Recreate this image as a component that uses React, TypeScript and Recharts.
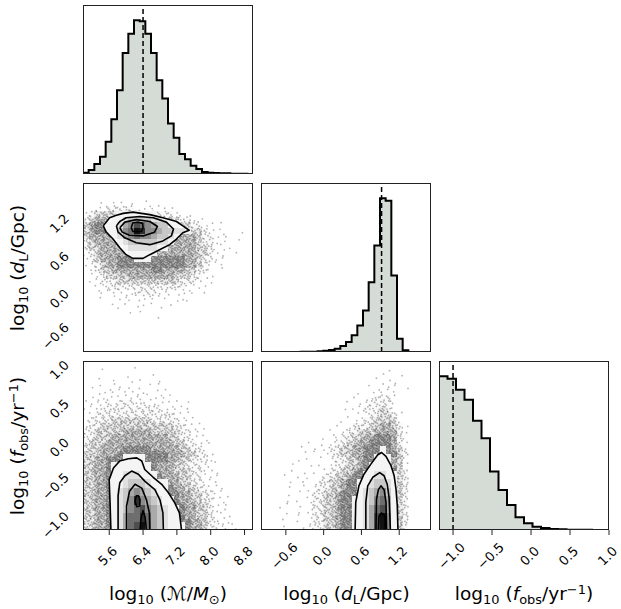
import React from "react";
import { ComposedChart, Area, Scatter, XAxis, YAxis, ReferenceLine } from "recharts";

// ranges, ticks and truth values
const massRange: [number, number] = [4.98, 9.0];
const distRange: [number, number] = [-0.995, 1.705];
const freqRange: [number, number] = [-1.18, 1.0];

const massTicks = [5.6, 6.4, 7.2, 8.0, 8.8];
const distTicks = [-0.6, 0.0, 0.6, 1.2];
const freqTicks = [-1.0, -0.5, 0.0, 0.5, 1.0];

const massTruth = 6.4;
const distTruth = 0.92;
const freqTruth = -1.0;

// 1D histogram counts (30, 30 and 20 bins)
const massCounts = [4, 12, 30, 52, 97, 165, 252, 364, 422, 462, 459, 422, 364, 282, 227, 152, 109, 60, 44, 25, 15, 6, 4, 3, 2, 2, 1, 1, 1, 0];
const distCounts = [0, 0, 0, 0, 0, 0, 0, 0.5, 0.5, 1, 2, 4, 6, 10, 18, 30, 50, 80, 125, 210, 320, 462, 455, 230, 40, 5, 0, 0, 0, 0];
const freqCounts = [460, 453, 420, 390, 327, 275, 175, 120, 75, 38, 20, 10, 6, 3, 2, 1, 1, 0.5, 0.3, 0];

// scatter-point density (1 = sparse ... 5 = dense), 30x30 cells, top row first
const hazeMassDist = [
  "..............................",
  "..............................",
  "..............................",
  "...1.11.1..1..................",
  "..11222221111111..............",
  "1233333333222222111...........",
  "2344443333333333322111........",
  "34554444444444444332211.1.....",
  "3455444444444444443332111...1.",
  "34444444444444444444322111....",
  "23444444444444444444322111.1..",
  "23344444444444444444332111....",
  "1234444444444444444433211..1..",
  "1234445555555555554432211.....",
  "1123445555555555554432111.....",
  ".1233444444455444433221.1.....",
  ".1123333444444443332211.......",
  ".11222333333333332221.1.......",
  "..11222222222222221111........",
  "..111111122221111111.1........",
  "...1.1111111111.111...........",
  ".....1.1.11.1..1..............",
  "......1...1..1................",
  "........1....1................",
];
const hazeMassFreq = [
  "..............................",
  "...1.....1....................",
  ".......1....1.................",
  "..1..1..1.1..1................",
  ".1.1.11.11.1.1................",
  "..1111111111.11...............",
  ".111111111111111..............",
  "11112122212111111.1...........",
  "1112222222222211111...........",
  "1122222222222222111...........",
  "12222333333322222111..........",
  "122333333333333322111.........",
  "2233333444443333322111........",
  "2233344444444443322111........",
  "23334444444444443322111.......",
  "2334444555554444433221........",
  "33344455555555544433221.......",
  "334455555555555443322211......",
  "33445555555554443322211.......",
  "334455555555544433322111......",
  "334455555555554443322111......",
  "334455555555555443322111......",
  "3344555555555555443322111.....",
  "3344555555555555544332211.....",
  "33445555555555555443322111....",
  "33445555555555555544332111....",
  "33445555555555555544332111....",
  "33445555555555555544332111....",
  "334455555555555555544322111...",
  "334455555555555555544322111...",
];
const hazeDistFreq = [
  "..............................",
  "......................1.......",
  ".....................1..1.....",
  "....................1.11......",
  "...................1.111.1....",
  ".................1.11111......",
  "................1.112221......",
  "...............1.1122221......",
  "..............1.11222321......",
  "...............1.11223321.....",
  "..............1.112233331.....",
  ".............1.12223344321....",
  "............1.122333444421....",
  "..........1.11223344555421....",
  "........1.1.12233445555421....",
  ".......1.1.122334455555431....",
  ".......1.1.122334455555532....",
  "......1.1.1.12233455555431....",
  ".....1..1.1.12233455555431....",
  ".....1.1.1.122334555555532....",
  "....1.1.1.1223345555555532....",
  ".....1.1.12233455555555532....",
  ".....1.1.12233455555555532....",
  "....1.1.122334555555555532....",
  "....1.1.122334555555555532....",
  "....1.1.122334555555555532....",
  "...1..1.122334555555555532....",
  "....1.1.122334555555555532....",
  "...1..1.122334555555555532....",
  "....1..1122334555555555532....",
];

// 2D histogram shading inside the contours (a = lightest ... i = darkest)
const densMassDist = [
  "", "", "", "", "",
  "......aaaaaaa",
  ".....aabccccbba",
  "....aabdegfedccaa",
  "....aacefiheedccbba",
  ".....abdefeedccba",
  "......abcccccbba",
  ".......abbbbbaa",
  "........aaaaa",
  ".........aaa",
];
const densMassFreq = [
  "", "", "", "", "", "", "", "", "", "", "",
  ".......aaaa",
  ".....aaaaaaa",
  ".....aabbbaaa",
  ".....aabcccbaaa",
  ".....abcdedcbaa",
  ".....abcehedcbaa",
  ".....abcefgedcbaa",
  ".....abdffhfdcbaa",
  ".....abdfgifdcbaaa",
];
const densDistFreq = [
  "", "", "", "", "", "", "", "", "", "",
  ".....................a",
  "....................aaa",
  "...................aaaa",
  "..................aabbaa",
  ".................aabccba",
  ".................abcdeca",
  "................aabcefda",
  "................aabdfgda",
  "................aabdgiea",
  "................aabdgiea",
];

// contour lines (0.5, 1, 1.5, 2 sigma), outermost first
const contoursMassDist = [
  [[5.46, 1.02], [5.61, 1.15], [5.77, 1.19], [5.93, 1.22], [6.16, 1.24], [6.56, 1.2], [6.87, 1.15], [7.19, 1.09], [7.34, 1.02], [7.49, 0.95], [7.34, 0.91], [7.19, 0.81], [7.03, 0.72], [6.79, 0.64], [6.56, 0.56], [6.4, 0.5], [6.16, 0.5], [6.0, 0.56], [5.85, 0.67], [5.69, 0.81], [5.53, 0.92], [5.46, 1.02]],
  [[5.77, 1.02], [5.85, 1.09], [6.0, 1.15], [6.32, 1.17], [6.64, 1.15], [6.95, 1.08], [7.12, 0.97], [7.07, 0.86], [6.87, 0.78], [6.56, 0.72], [6.24, 0.75], [5.97, 0.83], [5.81, 0.92], [5.77, 1.02]],
  [[5.85, 0.99], [5.97, 1.08], [6.24, 1.12], [6.56, 1.09], [6.74, 1.01], [6.67, 0.92], [6.4, 0.86], [6.08, 0.87], [5.91, 0.92], [5.85, 0.99]],
  [[6.12, 0.99], [6.16, 1.07], [6.28, 1.08], [6.39, 1.06], [6.4, 0.99], [6.36, 0.93], [6.16, 0.93], [6.12, 0.99]],
];
const contoursMassFreq = [
  [[5.64, -1.18], [5.62, -0.83], [5.6, -0.53], [5.7, -0.38], [5.85, -0.29], [6.05, -0.26], [6.25, -0.25], [6.37, -0.29], [6.44, -0.4], [6.64, -0.5], [6.84, -0.59], [7.0, -0.7], [7.15, -0.83], [7.26, -0.96], [7.31, -1.18]],
  [[5.81, -1.18], [5.81, -0.74], [5.85, -0.57], [5.97, -0.48], [6.13, -0.42], [6.29, -0.46], [6.44, -0.55], [6.68, -0.66], [6.8, -0.79], [6.87, -0.96], [6.88, -1.18]],
  [[6.01, -1.18], [6.01, -0.87], [6.08, -0.68], [6.21, -0.59], [6.37, -0.64], [6.48, -0.79], [6.55, -0.96], [6.56, -1.18]],
  [[6.21, -0.81], [6.24, -0.74], [6.29, -0.74], [6.33, -0.79], [6.32, -0.87], [6.25, -0.88], [6.21, -0.81]],
  [[6.33, -1.18], [6.35, -1.04], [6.4, -0.93], [6.45, -1.02], [6.48, -1.18]],
];
const contoursDistFreq = [
  [[0.5, -1.18], [0.51, -0.82], [0.56, -0.61], [0.64, -0.46], [0.75, -0.33], [0.86, -0.21], [0.92, -0.18], [0.99, -0.23], [1.07, -0.35], [1.12, -0.48], [1.15, -0.66], [1.17, -0.87], [1.18, -1.18]],
  [[0.67, -1.18], [0.67, -0.82], [0.7, -0.61], [0.78, -0.5], [0.89, -0.44], [0.96, -0.48], [1.01, -0.59], [1.04, -0.77], [1.06, -1.18]],
  [[0.83, -1.18], [0.84, -0.78], [0.87, -0.66], [0.91, -0.61], [0.96, -0.66], [0.99, -0.82], [1.0, -1.18]],
  [[0.87, -1.18], [0.88, -1.0], [0.92, -0.96], [0.97, -1.0], [0.98, -1.18]],
];

// ---- styling ----
const FONT = '"DejaVu Sans", sans-serif';
const PW = 170;
const PH = 169;
const COLS = [83, 261, 439];
const ROWS = [5, 183, 361];
const PAD = { top: 14, right: 16, bottom: 0, left: 16 };
const TICK = 5;
const FS = 13;
const HIST_FILL = "#d5dbd5";
const HAZE_DOTS: Record<string, number> = { "1": 1, "2": 3, "3": 6, "4": 9, "5": 13 };
const HAZE_BASE: Record<string, number> = { "1": 0, "2": 0.02, "3": 0.07, "4": 0.15, "5": 0.25 };
const JITTER = [
  [0.18, 0.22], [0.68, 0.72], [0.42, 0.48], [0.86, 0.14], [0.12, 0.82], [0.56, 0.08], [0.32, 0.92], [0.78, 0.44],
  [0.22, 0.54], [0.94, 0.86], [0.52, 0.66], [0.06, 0.36], [0.72, 0.96], [0.36, 0.04], [0.9, 0.6], [0.62, 0.3],
];
const DENS_FILL: Record<string, string> = {
  a: "#f4f4f4", b: "#e0e0e0", c: "#c8c8c8", d: "#aaaaaa", e: "#8c8c8c",
  f: "#6e6e6e", g: "#4e4e4e", h: "#2e2e2e", i: "#111111",
};

const charW = (s: string) =>
  [...s].reduce((a, ch) => a + (ch === "." ? 0.318 : ch === "\u2212" ? 0.838 : 0.636), 0);
const fmt = (v: number) => (Math.abs(v) < 1e-9 ? "0.0" : v.toFixed(1)).replace("-", "\u2212");
const halfBox = (s: string) => ((charW(s) + 0.73) * FS) / Math.SQRT2 / 2;

function rotatedText(cx: number, cy: number, s: string, key?: string) {
  return (
    <text key={key} x={cx} y={cy} textAnchor="middle" dominantBaseline="central" transform={`rotate(-45 ${cx} ${cy})`}
      fontSize={FS} fontFamily={FONT} fill="#000">{s}</text>
  );
}

// x tick labels: rotated 45 degrees, centred just below the tick
const xTickLabel = (props: any) => {
  const s = fmt(props.payload.value);
  return rotatedText(props.x - 1.5, props.y + 21, s);
};

function histPoints(counts: number[], range: [number, number]) {
  const w = (range[1] - range[0]) / counts.length;
  const pts = [{ x: range[0], y: 0 }];
  counts.forEach((c, i) => pts.push({ x: range[0] + i * w, y: c }));
  pts.push({ x: range[1], y: counts[counts.length - 1] });
  pts.push({ x: range[1], y: 0 });
  return pts;
}

function gridCells(grid: string[], xr: [number, number], yr: [number, number], nx: number, ny: number) {
  const cw = (xr[1] - xr[0]) / nx;
  const rh = (yr[1] - yr[0]) / ny;
  const out: { x: number; y: number; v: string; c: number; r: number }[] = [];
  grid.forEach((row, r) =>
    [...row.slice(0, nx)].forEach((ch, c) => {
      if (ch !== ".") out.push({ x: xr[0] + (c + 0.5) * cw, y: yr[1] - (r + 0.5) * rh, v: ch, c, r });
    })
  );
  return out;
}

const noShape = () => <g />;

// a haze cell is drawn as a light wash plus a few small dots, like the scattered samples
const hazeShape = (w: number, h: number) => (p: any) => {
  const { cx, cy, payload } = p;
  const x0 = cx - w / 2;
  const y0 = cy - h / 2;
  const n = HAZE_DOTS[payload.v] || 0;
  const base = HAZE_BASE[payload.v] || 0;
  const start = (payload.c * 5 + payload.r * 3) % JITTER.length;
  const dots = [];
  for (let k = 0; k < n; k++) {
    const [u, t] = JITTER[(start + k) % JITTER.length];
    dots.push(<circle key={k} cx={x0 + u * w} cy={y0 + t * h} r={0.9} fill="#000" fillOpacity={0.3} />);
  }
  return (
    <g>
      {base > 0 && <rect x={x0} y={y0} width={w} height={h} fill="#000" fillOpacity={base} shapeRendering="crispEdges" />}
      {dots}
    </g>
  );
};
const densShape = (w: number, h: number) => (p: any) => (
  <rect x={p.cx - w / 2} y={p.cy - h / 2} width={w} height={h}
    fill={DENS_FILL[p.payload.v]} shapeRendering="crispEdges" />
);
const polyLine = (fill: string, stroke: string, width: number) => (p: any) => {
  const pts = p.points || [];
  const d = pts.map((q: any, i: number) => `${i ? "L" : "M"}${q.x},${q.y}`).join("");
  return <path d={d} fill={fill} stroke={stroke} strokeWidth={width} strokeLinejoin="round" />;
};

const toXY = (arr: number[][]) => arr.map(([x, y]) => ({ x, y }));

function Panel(props: {
  col: number; row: number; xDomain: [number, number]; yDomain: [number, number];
  xTicks?: number[]; yTicks?: number[]; xLabels?: boolean;
  data?: any[]; children: React.ReactNode;
}) {
  const { col, row, xDomain, yDomain, xTicks, yTicks, xLabels, data, children } = props;
  const hx = xTicks ? (xLabels ? 60 : TICK + 1) : 0;
  const wy = yTicks ? TICK + 1 : 0;
  const left = COLS[col];
  const top = ROWS[row];
  const tickLine = { stroke: "#222", strokeWidth: 1 };
  return (
    <>
      <div style={{ position: "absolute", left: left - wy - PAD.left, top: top - PAD.top }}>
        <ComposedChart width={wy + PW + PAD.left + PAD.right} height={PH + hx + PAD.top} data={data} margin={PAD}>
          <XAxis type="number" dataKey="x" domain={xDomain} allowDataOverflow hide={!xTicks} ticks={xTicks}
            interval={0} height={hx} axisLine={false} tickLine={tickLine} tickSize={TICK} tickMargin={0}
            tick={xLabels ? xTickLabel : false} />
          <YAxis type="number" dataKey="y" domain={yDomain} allowDataOverflow hide={!yTicks} ticks={yTicks}
            interval={0} width={wy} axisLine={false} tickLine={tickLine} tickSize={TICK} tickMargin={0}
            tick={false} />
          {children}
        </ComposedChart>
      </div>
      <div style={{
        position: "absolute", left, top, width: PW, height: PH, border: "1px solid #222",
        boxSizing: "border-box", pointerEvents: "none",
      }} />
    </>
  );
}

// rotated y tick labels of the left column, right-aligned a little left of the frame
function YTickLabels() {
  const axes = [
    { row: 1, domain: distRange, ticks: distTicks },
    { row: 2, domain: freqRange, ticks: freqTicks },
  ];
  return (
    <svg width={621} height={609} style={{ position: "absolute", left: 0, top: 0, pointerEvents: "none" }}>
      {axes.flatMap(({ row, domain, ticks }) =>
        ticks.map((v) => {
          const s = fmt(v);
          const py = ROWS[row] + ((domain[1] - v) / (domain[1] - domain[0])) * PH;
          return rotatedText(COLS[0] - 13 - halfBox(s), py + 9, s, `${row}-${v}`);
        })
      )}
    </svg>
  );
}

function histSeries(truth: number) {
  return [
    <Area key="h" dataKey="y" type="stepAfter" stroke="#000" strokeWidth={2} strokeLinejoin="miter"
      fill={HIST_FILL} fillOpacity={1} isAnimationActive={false} dot={false} activeDot={false} />,
    <ReferenceLine key="t" x={truth} stroke="#000" strokeWidth={1.5} strokeDasharray="5 3" />,
  ];
}

function densitySeries(
  haze: string[], dens: string[], contours: number[][][],
  xr: [number, number], yr: [number, number], densRows: number
) {
  return [
    <Scatter key="haze" data={gridCells(haze, xr, yr, 30, 30)} shape={hazeShape(PW / 30, PH / 30)} isAnimationActive={false} />,
    <Scatter key="white" data={toXY(contours[0])} shape={noShape} line={polyLine("#fff", "none", 0)} isAnimationActive={false} />,
    <Scatter key="dens" data={gridCells(dens, xr, yr, 30, densRows)} shape={densShape(PW / 30, PH / densRows)} isAnimationActive={false} />,
    ...contours.map((c, i) => (
      <Scatter key={`c${i}`} data={toXY(c)} shape={noShape} line={polyLine("none", "#000", 1.6)} isAnimationActive={false} />
    )),
  ];
}

const labelStyle: React.CSSProperties = {
  position: "absolute", fontFamily: FONT, fontSize: 18.5, whiteSpace: "nowrap", color: "#000", lineHeight: 1,
};
const sub: React.CSSProperties = { fontSize: "0.7em", position: "relative", top: "0.28em" };
const sup: React.CSSProperties = { fontSize: "0.7em", position: "relative", top: "-0.45em" };

function AxisLabel({ cx, cy, vertical, children }: { cx: number; cy: number; vertical?: boolean; children: React.ReactNode }) {
  return (
    <div style={{ ...labelStyle, left: cx, top: cy, transform: `translate(-50%, -50%)${vertical ? " rotate(-90deg)" : ""}` }}>
      {children}
    </div>
  );
}

const massLabel = (
  <>log<span style={sub}>10</span> (ℳ/<i>M</i><span style={sub}>⊙</span>)</>
);
const distLabel = (
  <>log<span style={sub}>10</span> (<i>d</i><span style={sub}>L</span>/Gpc)</>
);
const freqLabel = (
  <>log<span style={sub}>10</span> (<i>f</i><span style={sub}>obs</span>/yr<span style={sup}>−1</span>)</>
);

export default function App() {
  const massMax = Math.max(...massCounts) * 1.1;
  const distMax = Math.max(...distCounts) * 1.1;
  const freqMax = Math.max(...freqCounts) * 1.1;
  return (
    <div style={{ position: "absolute", left: 0, top: 0, width: 621, height: 609, background: "#fff", overflow: "hidden" }}>
      <Panel col={0} row={0} xDomain={massRange} yDomain={[0, massMax]} xTicks={massTicks} data={histPoints(massCounts, massRange)}>
        {histSeries(massTruth)}
      </Panel>

      <Panel col={0} row={1} xDomain={massRange} yDomain={distRange} xTicks={massTicks} yTicks={distTicks}>
        {densitySeries(hazeMassDist, densMassDist, contoursMassDist, massRange, distRange, 30)}
      </Panel>
      <Panel col={1} row={1} xDomain={distRange} yDomain={[0, distMax]} xTicks={distTicks} data={histPoints(distCounts, distRange)}>
        {histSeries(distTruth)}
      </Panel>

      <Panel col={0} row={2} xDomain={massRange} yDomain={freqRange} xTicks={massTicks} yTicks={freqTicks} xLabels>
        {densitySeries(hazeMassFreq, densMassFreq, contoursMassFreq, massRange, freqRange, 20)}
      </Panel>
      <Panel col={1} row={2} xDomain={distRange} yDomain={freqRange} xTicks={distTicks} yTicks={freqTicks} xLabels>
        {densitySeries(hazeDistFreq, densDistFreq, contoursDistFreq, distRange, freqRange, 20)}
      </Panel>
      <Panel col={2} row={2} xDomain={freqRange} yDomain={[0, freqMax]} xTicks={freqTicks} xLabels data={histPoints(freqCounts, freqRange)}>
        {histSeries(freqTruth)}
      </Panel>

      <YTickLabels />
      <AxisLabel cx={18.3} cy={267.7} vertical>{distLabel}</AxisLabel>
      <AxisLabel cx={18.3} cy={445.5} vertical>{freqLabel}</AxisLabel>
      <AxisLabel cx={168} cy={594}>{massLabel}</AxisLabel>
      <AxisLabel cx={346.5} cy={594}>{distLabel}</AxisLabel>
      <AxisLabel cx={524} cy={594}>{freqLabel}</AxisLabel>
    </div>
  );
}
